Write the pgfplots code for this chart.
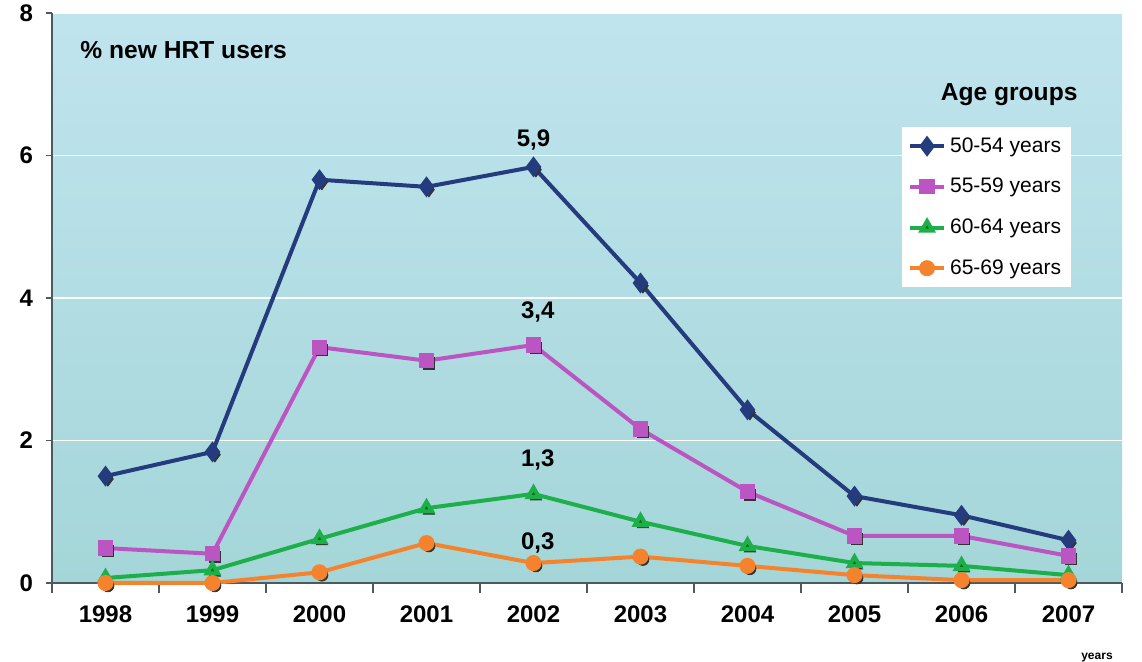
\documentclass[border=0pt]{standalone}
\usepackage{pgfplots}
\pgfplotsset{compat=1.18}
\usepackage{fontspec}
\setmainfont{Liberation Sans}
\definecolor{cNavy}{HTML}{243B7E}
\definecolor{cMag}{HTML}{BB55C2}
\definecolor{cGreen}{HTML}{1DAF4A}
\definecolor{cOrange}{HTML}{F5832E}
\definecolor{bgTop}{HTML}{C0E4EE}
\definecolor{bgBot}{HTML}{A4D6D8}
\definecolor{axGray}{HTML}{4A5A60}
\begin{document}
\begin{tikzpicture}
\path[use as bounding box] (0,0) rectangle (571pt,331pt);
\begin{axis}[
  at={(26pt,39.5pt)}, anchor=south west,
  scale only axis, width=535pt, height=285pt,
  xmin=-0.5, xmax=9.5, ymin=0, ymax=8,
  axis lines=left, axis line style={-, axGray, line width=1.2pt},
  xtick={0,...,9},
  xticklabels={1998,1999,2000,2001,2002,2003,2004,2005,2006,2007},
  major x tick style={draw=none},
  minor xtick={-0.5,0.5,...,9.5},
  minor x tick style={axGray, line width=1pt},
  minor tick length=5pt,
  ytick={0,2,4,6,8},
  major tick length=3pt,
  tick align=outside,
  y tick style={axGray, line width=0.8pt},
  ymajorgrids, grid style={white, line width=0.6pt},
  /pgf/number format/assume math mode=true,
  ticklabel style={font=\fontsize{12}{14}\selectfont\bfseries},
  xticklabel style={yshift=-5pt},
  yticklabel style={xshift=-3pt},
  axis background/.style={top color=bgTop, bottom color=bgBot},
  legend style={at={(rel axis cs:0.794,0.8)}, anchor=north west,
    draw=none, fill=white, font=\fontsize{10.5}{12}\selectfont,
    row sep=7.5pt, inner xsep=3pt, inner ysep=3pt},
  legend cell align=left,
  clip=false,
]
% shadows
\addplot[only marks, mark=diamond*, mark size=3.6pt, black!80, mark options={xshift=1.2pt,yshift=-1.4pt}, forget plot]
 coordinates {(0,1.50)(1,1.84)(2,5.66)(3,5.56)(4,5.84)(5,4.21)(6,2.43)(7,1.22)(8,0.95)(9,0.60)};
\addplot[only marks, mark=square*, mark size=2.8pt, black!80, mark options={xshift=1.2pt,yshift=-1.4pt}, forget plot]
 coordinates {(0,0.49)(1,0.41)(2,3.31)(3,3.12)(4,3.34)(5,2.16)(6,1.28)(7,0.66)(8,0.66)(9,0.38)};
\addplot[only marks, mark=triangle*, mark size=3.2pt, black!80, mark options={xshift=1.2pt,yshift=-1.4pt}, forget plot]
 coordinates {(0,0.07)(1,0.18)(2,0.62)(3,1.05)(4,1.25)(5,0.86)(6,0.52)(7,0.28)(8,0.24)(9,0.11)};
\addplot[only marks, mark=*, mark size=3pt, black!80, mark options={xshift=1.2pt,yshift=-1.4pt}, forget plot]
 coordinates {(0,0.0)(1,0.0)(2,0.15)(3,0.56)(4,0.28)(5,0.37)(6,0.24)(7,0.11)(8,0.04)(9,0.04)};
% series
\addplot[cNavy, line width=2pt, mark=diamond*, mark size=3.6pt]
 coordinates {(0,1.50)(1,1.84)(2,5.66)(3,5.56)(4,5.84)(5,4.21)(6,2.43)(7,1.22)(8,0.95)(9,0.60)};
\addlegendentry{50-54 years}
\addplot[cMag, line width=2pt, mark=square*, mark size=2.8pt]
 coordinates {(0,0.49)(1,0.41)(2,3.31)(3,3.12)(4,3.34)(5,2.16)(6,1.28)(7,0.66)(8,0.66)(9,0.38)};
\addlegendentry{55-59 years}
\addplot[cGreen, line width=2pt, mark=triangle*, mark size=3.2pt, mark options={fill=green!40!black!80!cGreen, draw=cGreen}]
 coordinates {(0,0.07)(1,0.18)(2,0.62)(3,1.05)(4,1.25)(5,0.86)(6,0.52)(7,0.28)(8,0.24)(9,0.11)};
\addlegendentry{60-64 years}
\addplot[cOrange, line width=2pt, mark=*, mark size=3pt]
 coordinates {(0,0.0)(1,0.0)(2,0.15)(3,0.56)(4,0.28)(5,0.37)(6,0.24)(7,0.11)(8,0.04)(9,0.04)};
\addlegendentry{65-69 years}
% labels
\node[font=\fontsize{12}{14}\selectfont\bfseries] at (axis cs:4.0,6.22) {5,9};
\node[font=\fontsize{12}{14}\selectfont\bfseries] at (axis cs:4.04,3.80) {3,4};
\node[font=\fontsize{12}{14}\selectfont\bfseries] at (axis cs:4.04,1.73) {1,3};
\node[font=\fontsize{12}{14}\selectfont\bfseries] at (axis cs:4.04,0.56) {0,3};
\node[font=\fontsize{12.3}{14}\selectfont\bfseries, anchor=west] at (rel axis cs:0.02,0.935) {\% new HRT users};
\node[font=\fontsize{12.3}{14}\selectfont\bfseries, anchor=east] at (rel axis cs:0.965,0.857) {Age groups};
\end{axis}
\node[font=\fontsize{6}{7}\selectfont\bfseries] at (548.5pt,2pt) {years};
\end{tikzpicture}
\end{document}
